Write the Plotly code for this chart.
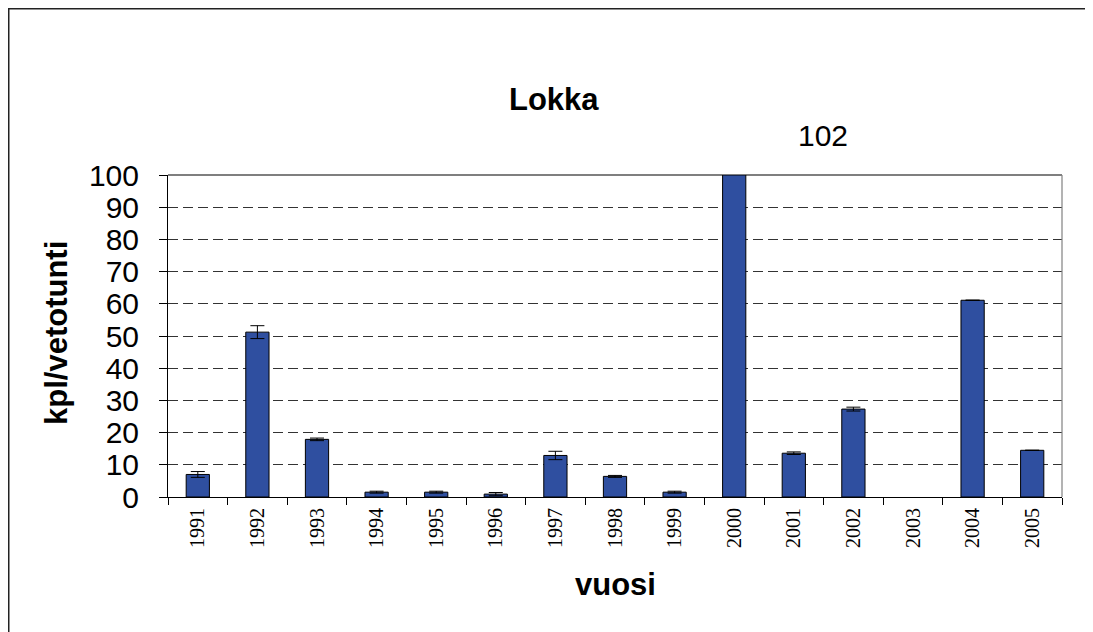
import plotly.graph_objects as go

years = ["1991", "1992", "1993", "1994", "1995", "1996", "1997", "1998",
         "1999", "2000", "2001", "2002", "2003", "2004", "2005"]
values = [7.0, 51.2, 17.9, 1.5, 1.5, 0.9, 12.9, 6.4, 1.5, 102, 13.6, 27.3, None, 61.1, 14.5]
errors = [0.9, 2.0, 0.4, 0.3, 0.3, 0.5, 1.3, 0.3, 0.3, 0, 0.4, 0.6, 0, 0, 0]
y_ticks = [0, 10, 20, 30, 40, 50, 60, 70, 80, 90, 100]

OFF = 8  # page body margin
W, H = 1093 - OFF, 632 - OFF
L, R, T, B = 168 - OFF, 1062 - OFF, 175 - OFF, 497 - OFF
pw, ph = R - L, B - T

def px(x):
    return (x - OFF - L) / pw

def py(y):
    return (B - (y - OFF)) / ph

fig = go.Figure()
fig.add_trace(go.Bar(
    x=years, y=values,
    marker=dict(color="#2F4FA0", line=dict(color="#000000", width=1)),
    error_y=dict(type="data", array=errors, visible=True, color="#000000",
                 thickness=1, width=7),
))

sans = "Liberation Sans, Arial, sans-serif"

fig.update_layout(
    width=W, height=H,
    margin=dict(l=L, r=W - R, t=T, b=H - B),
    paper_bgcolor="#ffffff", plot_bgcolor="#ffffff",
    showlegend=False,
    bargap=0.61,
    xaxis=dict(
        type="category", tickvals=years, ticktext=years,
        tickangle=-90, tickson="boundaries", ticks="outside", ticklen=7,
        tickcolor="#000000", showline=True, linecolor="#000000", linewidth=1,
        mirror=False, showgrid=False, ticklabelstandoff=2,
        tickfont=dict(family="Liberation Serif, Times New Roman, serif", size=20, color="#000000"),
    ),
    yaxis=dict(
        range=[0, 100], tickvals=y_ticks, ticks="outside", ticklen=8,
        tickcolor="#000000", showline=True, linecolor="#000000", linewidth=1,
        showgrid=True, gridcolor="#333333", gridwidth=1, griddash="10px,5px",
        zeroline=False, ticklabelstandoff=14,
        tickfont=dict(family=sans, size=30, color="#000000"),
    ),
    shapes=[
        dict(type="line", xref="paper", yref="paper", x0=0, x1=1, y0=1, y1=1,
             line=dict(color="#000000", width=1.2)),
        dict(type="line", xref="paper", yref="paper", x0=1, x1=1, y0=0, y1=1,
             line=dict(color="#808080", width=1.2)),
        dict(type="rect", xref="paper", yref="paper",
             x0=(0.75 - L) / pw, x1=px(1120), y0=py(660), y1=(B - 0.75) / ph,
             line=dict(color="#222222", width=1.5), fillcolor="rgba(0,0,0,0)"),
    ],
    annotations=[
        dict(text="<b>Lokka</b>", xref="paper", yref="paper", x=px(554), y=py(100),
             xanchor="center", yanchor="middle", showarrow=False,
             font=dict(family=sans, size=31, color="#000000")),
        dict(text="102", xref="paper", yref="paper", x=px(823), y=py(135),
             xanchor="center", yanchor="middle", showarrow=False,
             font=dict(family=sans, size=30, color="#000000")),
        dict(text="<b>vuosi</b>", xref="paper", yref="paper", x=px(615), y=py(584),
             xanchor="center", yanchor="middle", showarrow=False,
             font=dict(family=sans, size=31, color="#000000")),
        dict(text="<b>kpl/vetotunti</b>", xref="paper", yref="paper", x=px(56), y=py(333),
             xanchor="center", yanchor="middle", showarrow=False, textangle=-90,
             font=dict(family=sans, size=31, color="#000000")),
    ],
)

fig.write_html("out.html")
